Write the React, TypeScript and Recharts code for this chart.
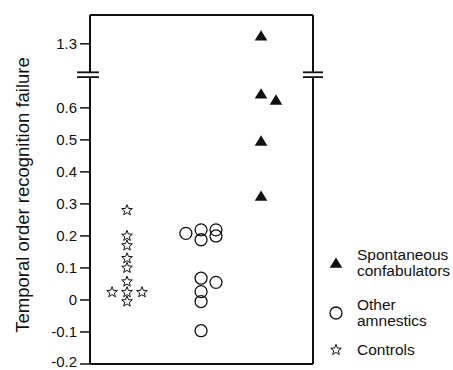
import React from 'react';
import { ScatterChart, Scatter, XAxis, YAxis, ReferenceLine, Legend } from 'recharts';

const FONT = '"Liberation Sans", Arial, Helvetica, sans-serif';
const INK = '#111';

// y axis is broken between 0.7 and 1.2; values above the break are drawn 0.5 lower
const breakAt = 0.7;
const breakShift = 0.5;
const yTicks = [-0.2, -0.1, 0, 0.1, 0.2, 0.3, 0.4, 0.5, 0.6, 0.8];
const yTickLabels = ['-0.2', '-0.1', '0', '0.1', '0.2', '0.3', '0.4', '0.5', '0.6', '1.3'];

// x: horizontal spread inside the box (0..100), y: recognition failure
const controlValues = [0.28, 0.2, 0.17, 0.13, 0.1, 0.057, 0.024, 0.024, 0.024, -0.005];
const controlSpread = [16.6, 16.6, 16.6, 16.6, 16.6, 16.6, 9.9, 16.6, 23.3, 16.6];

const amnesticValues = [0.208, 0.219, 0.188, 0.068, 0.026, -0.005, -0.096, 0.219, 0.2, 0.055];
const amnesticSpread = [43, 49.8, 49.8, 49.8, 49.8, 49.8, 49.8, 56.5, 56.5, 56.5];

const confabValues = [1.325, 0.644, 0.625, 0.497, 0.325];
const confabSpread = [76.7, 76.7, 83.4, 76.7, 76.7];

const groupNames = [['Spontaneous', 'confabulators'], ['Other', 'amnestics'], ['Controls']];

const toPlot = (v: number) => (v > breakAt ? v - breakShift : v);
const points = (vals: number[], xs: number[]) => vals.map((v, i) => ({ x: xs[i], y: toPlot(v) }));

const Triangle = ({ cx, cy }: any) => (
  <path d={`M${cx},${cy - 5.5} L${cx + 6.3},${cy + 4.8} L${cx - 6.3},${cy + 4.8} Z`} fill={INK} />
);

const Ring = ({ cx, cy }: any) => (
  <circle cx={cx} cy={cy} r={6} fill="none" stroke={INK} strokeWidth={1.3} />
);

const Star = ({ cx, cy }: any) => {
  const pts: string[] = [];
  for (let i = 0; i < 10; i++) {
    const r = i % 2 === 0 ? 5.6 : 2.4;
    const a = -Math.PI / 2 + (i * Math.PI) / 5;
    pts.push(`${cx + r * Math.cos(a)},${cy + r * Math.sin(a)}`);
  }
  return <polygon points={pts.join(' ')} fill="#fff" stroke={INK} strokeWidth={1} />;
};

const markers = [Triangle, Ring, Star];
const rowTops = [2, 52, 97];

const renderLegend = () => (
  <div style={{ position: 'relative', width: 128, height: 120, fontFamily: FONT, fontSize: 15.5, lineHeight: '16px', color: INK }}>
    {groupNames.map((lines, i) => {
      const M = markers[i];
      const h = lines.length * 16;
      return (
        <div key={i} style={{ position: 'absolute', left: 0, top: rowTops[i], width: 128, height: h }}>
          <svg width={22} height={h} style={{ position: 'absolute', left: 0, top: 0 }}>
            <M cx={11} cy={h / 2} />
          </svg>
          <div style={{ position: 'absolute', left: 32, top: 0, whiteSpace: 'nowrap' }}>
            {lines.map(l => <div key={l}>{l}</div>)}
          </div>
        </div>
      );
    })}
  </div>
);

// tick label; the lowest one sits on the page edge, so lift it a little
const YTick = ({ x, y, payload }: any) => {
  const i = yTicks.indexOf(payload.value);
  const lift = i === 0 ? -3 : 0;
  return (
    <text x={x} y={y + lift} textAnchor="end" dominantBaseline="central" fontFamily={FONT} fontSize={15} fill={INK}>
      {yTickLabels[i] ?? String(payload.value)}
    </text>
  );
};

const seg = (x1: number, y1: number, x2: number, y2: number, w = 2) => (
  <ReferenceLine
    key={`${x1}-${y1}-${x2}-${y2}`}
    segment={[{ x: x1, y: y1 }, { x: x2, y: y2 }]}
    stroke={INK}
    strokeWidth={w}
    ifOverflow="visible"
  />
);

export default function App() {
  const yTop = 0.89;
  const lo = 0.696;
  const hi = 0.711;
  return (
    <div style={{ position: 'absolute', left: 0, top: 0, width: 453, height: 370, background: '#fff' }}>
      <ScatterChart width={453} height={370} margin={{ top: 15, right: 140, bottom: 6, left: 0 }}>
        <XAxis type="number" dataKey="x" domain={[0, 100]} hide />
        <YAxis
          type="number"
          dataKey="y"
          domain={[-0.2, yTop]}
          ticks={yTicks}
          interval={0}
          width={90}
          axisLine={false}
          tickLine={{ stroke: INK, strokeWidth: 1.5 }}
          tickSize={10}
          tickMargin={3}
          tick={YTick}
          label={{
            content: () => (
              <text
                x={22}
                y={195}
                transform="rotate(-90, 22, 195)"
                textAnchor="middle"
                dominantBaseline="central"
                fontFamily={FONT}
                fontSize={18.5}
                fill={INK}
              >
                Temporal order recognition failure
              </text>
            ),
          }}
        />
        {seg(0, -0.2, 0, lo)}
        {seg(0, hi, 0, yTop)}
        {seg(100, -0.2, 100, lo)}
        {seg(100, hi, 100, yTop)}
        {seg(0, yTop, 100, yTop)}
        {seg(0, -0.2, 100, -0.2)}
        {seg(-5.8, lo, 4, lo, 1.8)}
        {seg(-5.8, hi, 4, hi, 1.8)}
        {seg(95.5, lo, 104.5, lo, 1.8)}
        {seg(95.5, hi, 104.5, hi, 1.8)}
        <Scatter data={points(controlValues, controlSpread)} shape={Star} isAnimationActive={false} />
        <Scatter data={points(amnesticValues, amnesticSpread)} shape={Ring} isAnimationActive={false} />
        <Scatter data={points(confabValues, confabSpread)} shape={Triangle} isAnimationActive={false} />
        <Legend
          layout="horizontal"
          verticalAlign="middle"
          align="center"
          content={renderLegend}
          wrapperStyle={{ position: 'absolute', left: 325, top: 245, width: 128, height: 120 }}
        />
      </ScatterChart>
    </div>
  );
}
